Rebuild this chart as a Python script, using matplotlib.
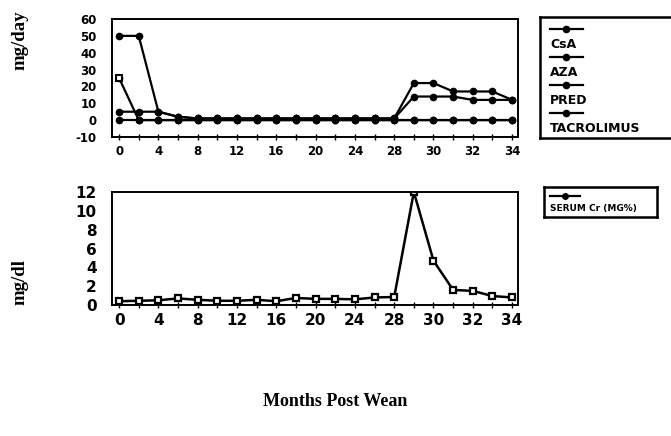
import matplotlib.pyplot as plt
from matplotlib.lines import Line2D

plt.rcParams['axes.unicode_minus'] = False

# months (categorical axis: every 2 months up to 28, then monthly)
months = [0, 2, 4, 6, 8, 10, 12, 14, 16, 18, 20, 22, 24, 26, 28, 29, 30, 31, 32, 33, 34]
tick_labels = ['0', '4', '8', '12', '16', '20', '24', '28', '30', '32', '34']

csa = [25, 0, 0, 0, 0, 0, 0, 0, 0, 0, 0, 0, 0, 0, 0, 0, 0, 0, 0, 0, 0]
aza = [50, 50, 5, 2, 1, 1, 1, 1, 1, 1, 1, 1, 1, 1, 1, 22, 22, 17, 17, 17, 12]
pred = [5, 5, 5, 2, 1, 1, 1, 1, 1, 1, 1, 1, 1, 1, 1, 14, 14, 14, 12, 12, 12]
tacro = [0, 0, 0, 0, 0, 0, 0, 0, 0, 0, 0, 0, 0, 0, 0, 0, 0, 0, 0, 0, 0]
drug_names = ['CsA', 'AZA', 'PRED', 'TACROLIMUS']

creat = [0.4, 0.45, 0.5, 0.7, 0.55, 0.45, 0.45, 0.55, 0.4, 0.75, 0.65,
         0.65, 0.6, 0.8, 0.85, 12, 4.7, 1.6, 1.5, 0.95, 0.8]
creat_name = 'SERUM Cr (MG%)'

W, H = 671, 436
fig = plt.figure(figsize=(W / 100, H / 100), dpi=100)

def box(l, t, r, b):
    return [l / W, 1 - b / H, (r - l) / W, (b - t) / H]

idx = list(range(len(months)))

def style(ax, size):
    for s in ax.spines.values():
        s.set_linewidth(1.4)
    ax.set_xlim(-0.36, 20.3)
    ax.set_xticks(idx, minor=True)
    ax.set_xticks(idx[::2])
    ax.set_xticklabels(tick_labels)
    ax.tick_params(axis='x', which='both', direction='inout', length=5, width=1)
    ax.tick_params(axis='y', length=0, pad=11)
    for t in ax.get_xticklabels() + ax.get_yticklabels():
        t.set_fontweight('bold')
        t.set_fontsize(size)

# top panel: drug doses
ax1 = fig.add_axes(box(112, 19, 518, 137))
for vals in [csa, aza, pred, tacro]:
    ax1.plot(idx, vals, color='black', lw=1.6, marker='o', ms=4.5, mfc='black')
ax1.plot(idx[:1], csa[:1], color='black', marker='s', ms=5, mfc='white', mew=1.5, ls='none')
ax1.set_ylim(-10, 60)
ax1.set_yticks(range(-10, 61, 10))
style(ax1, 8.5)

# bottom panel: serum creatinine
ax2 = fig.add_axes(box(112, 192, 518, 305))
ax2.plot(idx, creat, color='black', lw=1.8, marker='s', ms=4.5, mfc='white', mew=1.6)
ax2.set_ylim(0, 12)
ax2.set_yticks(range(0, 13, 2))
style(ax2, 11)

serif = dict(family='Liberation Serif', weight='bold')
fig.text(20 / W, 1 - 40 / H, 'mg/day', rotation=90, ha='center', va='center',
         fontsize=13.5, **serif)
fig.text(20 / W, 1 - 282 / H, 'mg/dl', rotation=90, ha='center', va='center',
         fontsize=13.5, **serif)
fig.text(335 / W, 1 - 401 / H, 'Months Post Wean', ha='center', va='center',
         fontsize=13, **serif)

# legend boxes drawn by hand (line sample above each label)
leg_font = dict(family='DejaVu Sans', weight='bold')
lg1 = fig.add_axes(box(540, 17, 680, 138))
lg1.set_xlim(0, 140)
lg1.set_ylim(121, 0)
lg1.set_xticks([])
lg1.set_yticks([])
for s in lg1.spines.values():
    s.set_linewidth(1.8)
for i, name in enumerate(drug_names):
    y = 12 + i * 28
    lg1.add_line(Line2D([10, 26, 43], [y, y, y], color='black', lw=1.6, marker='o',
                        ms=4.5, markevery=[1]))
    lg1.text(10, y + 16, name, va='center', fontsize=9, **leg_font)

lg2 = fig.add_axes(box(544, 187, 657, 217))
lg2.set_xlim(0, 113)
lg2.set_ylim(30, 0)
lg2.set_xticks([])
lg2.set_yticks([])
for s in lg2.spines.values():
    s.set_linewidth(1.8)
lg2.add_line(Line2D([6, 21, 36], [9, 9, 9], color='black', lw=1.6, marker='o', ms=4,
                    markevery=[1]))
lg2.text(6, 21, creat_name, va='center', fontsize=6.5, **leg_font)

fig.savefig('out.png', dpi=100)
